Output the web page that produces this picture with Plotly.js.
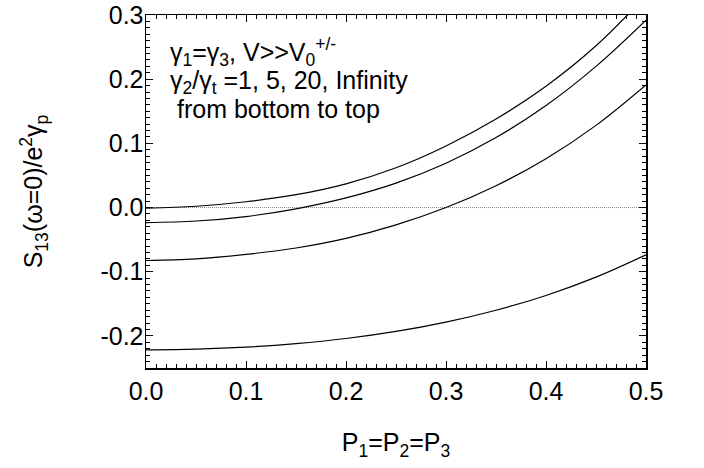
<!DOCTYPE html>
<html>
<head>
<meta charset="utf-8">
<script src="https://cdn.plot.ly/plotly-3.0.1.min.js"></script>
<style>html,body{margin:0;padding:0;background:#fff;}#chart{width:704px;height:468px;}</style>
</head>
<body>
<div id="chart"></div>
<script>
// P1=P2=P3 sample points
var pValues = [0, 0.05, 0.1, 0.15, 0.2, 0.25, 0.3, 0.35, 0.4, 0.45, 0.5];
// S13(w=0)/e^2 gamma_p for gamma2/gammat = 1, 5, 20, Infinity (bottom to top)
var ratio1   = [-0.2217, -0.2206, -0.2175, -0.2120, -0.2040, -0.1930, -0.1785, -0.1600, -0.1370, -0.1085, -0.0737];
var ratio5   = [-0.0825, -0.080, -0.073, -0.063, -0.048, -0.027, 0.000, 0.034, 0.076, 0.128, 0.191];
var ratio20  = [-0.0234, -0.021, -0.014, -0.002, 0.015, 0.038, 0.069, 0.109, 0.159, 0.220, 0.292];
var ratioInf = [-0.001, 0.002, 0.009, 0.020, 0.037, 0.062, 0.096, 0.138, 0.189, 0.252, 0.330];
var seriesNames = ['1', '5', '20', 'Infinity'];

var xTickVals = [0, 0.1, 0.2, 0.3, 0.4, 0.5];
var xTickText = ['0.0', '0.1', '0.2', '0.3', '0.4', '0.5'];
var yTickVals = [-0.2, -0.1, 0, 0.1, 0.2, 0.3];
var yTickText = ['-0.2', '-0.1', '0.0', '0.1', '0.2', '0.3'];

var FONT = 'Liberation Sans, Arial, Helvetica, sans-serif';
var allSeries = [ratio1, ratio5, ratio20, ratioInf];
var traces = allSeries.map(function (ys, i) {
  return {
    x: pValues, y: ys, type: 'scatter', mode: 'lines', name: seriesNames[i],
    line: {color: '#000', width: 1.2, shape: 'spline', smoothing: 1},
    hoverinfo: 'x+y'
  };
});

var axisCommon = {
  showline: true, linecolor: '#000', linewidth: 1.5, mirror: 'allticks',
  ticks: 'inside', ticklen: 7, tickwidth: 1, tickcolor: '#000',
  showgrid: false, zeroline: false, tickmode: 'array',
  tickfont: {family: FONT, size: 25, color: '#000'},
  minor: {ticks: 'inside', ticklen: 4, tickwidth: 1, tickcolor: '#000', dtick: 0.01, tick0: 0, showgrid: false}
};

var layout = {
  width: 704, height: 468,
  margin: {l: 146, r: 58, t: 15, b: 100},
  paper_bgcolor: '#fff', plot_bgcolor: '#fff',
  showlegend: false,
  font: {family: FONT, color: '#000'},
  xaxis: Object.assign({}, axisCommon, {
    range: [0, 0.5], tickvals: xTickVals, ticktext: xTickText, ticklabelstandoff: 0,
    title: {text: 'P<sub>1</sub>=P<sub>2</sub>=P<sub>3</sub>', font: {family: FONT, size: 25, color: '#000'}, standoff: 30}
  }),
  yaxis: Object.assign({}, axisCommon, {
    range: [-0.25, 0.3], tickvals: yTickVals, ticktext: yTickText, ticklabelstandoff: -4,
    title: {text: 'S<sub>13</sub>(ω=0)/e<sup>2</sup>γ<sub>p</sub>', font: {family: FONT, size: 25, color: '#000'}, standoff: 50}
  }),
  shapes: [{
    type: 'line', xref: 'paper', x0: 0, x1: 1, yref: 'y', y0: 0, y1: 0,
    line: {color: '#888', width: 1, dash: '1px,1px'}, layer: 'below'
  }],
  annotations: [
    {xref: 'paper', yref: 'paper', x: 0.044, y: (368 - 52) / 353, xanchor: 'left', yanchor: 'middle', showarrow: false,
     text: 'γ<sub>1</sub>=γ<sub>3</sub>, V>>V<sub>0</sub><sup>+/-</sup>', font: {family: FONT, size: 25, color: '#000'}},
    {xref: 'paper', yref: 'paper', x: 0.044, y: (368 - 82) / 353, xanchor: 'left', yanchor: 'middle', showarrow: false,
     text: 'γ<sub>2</sub>/γ<sub>t</sub> =1, 5, 20, Infinity', font: {family: FONT, size: 25, color: '#000'}},
    {xref: 'paper', yref: 'paper', x: 0.058, y: (368 - 109) / 353, xanchor: 'left', yanchor: 'middle', showarrow: false,
     text: 'from bottom to top', font: {family: FONT, size: 25, color: '#000'}}
  ]
};

Plotly.newPlot('chart', traces, layout, {displayModeBar: false, staticPlot: true});
</script>
</body>
</html>
